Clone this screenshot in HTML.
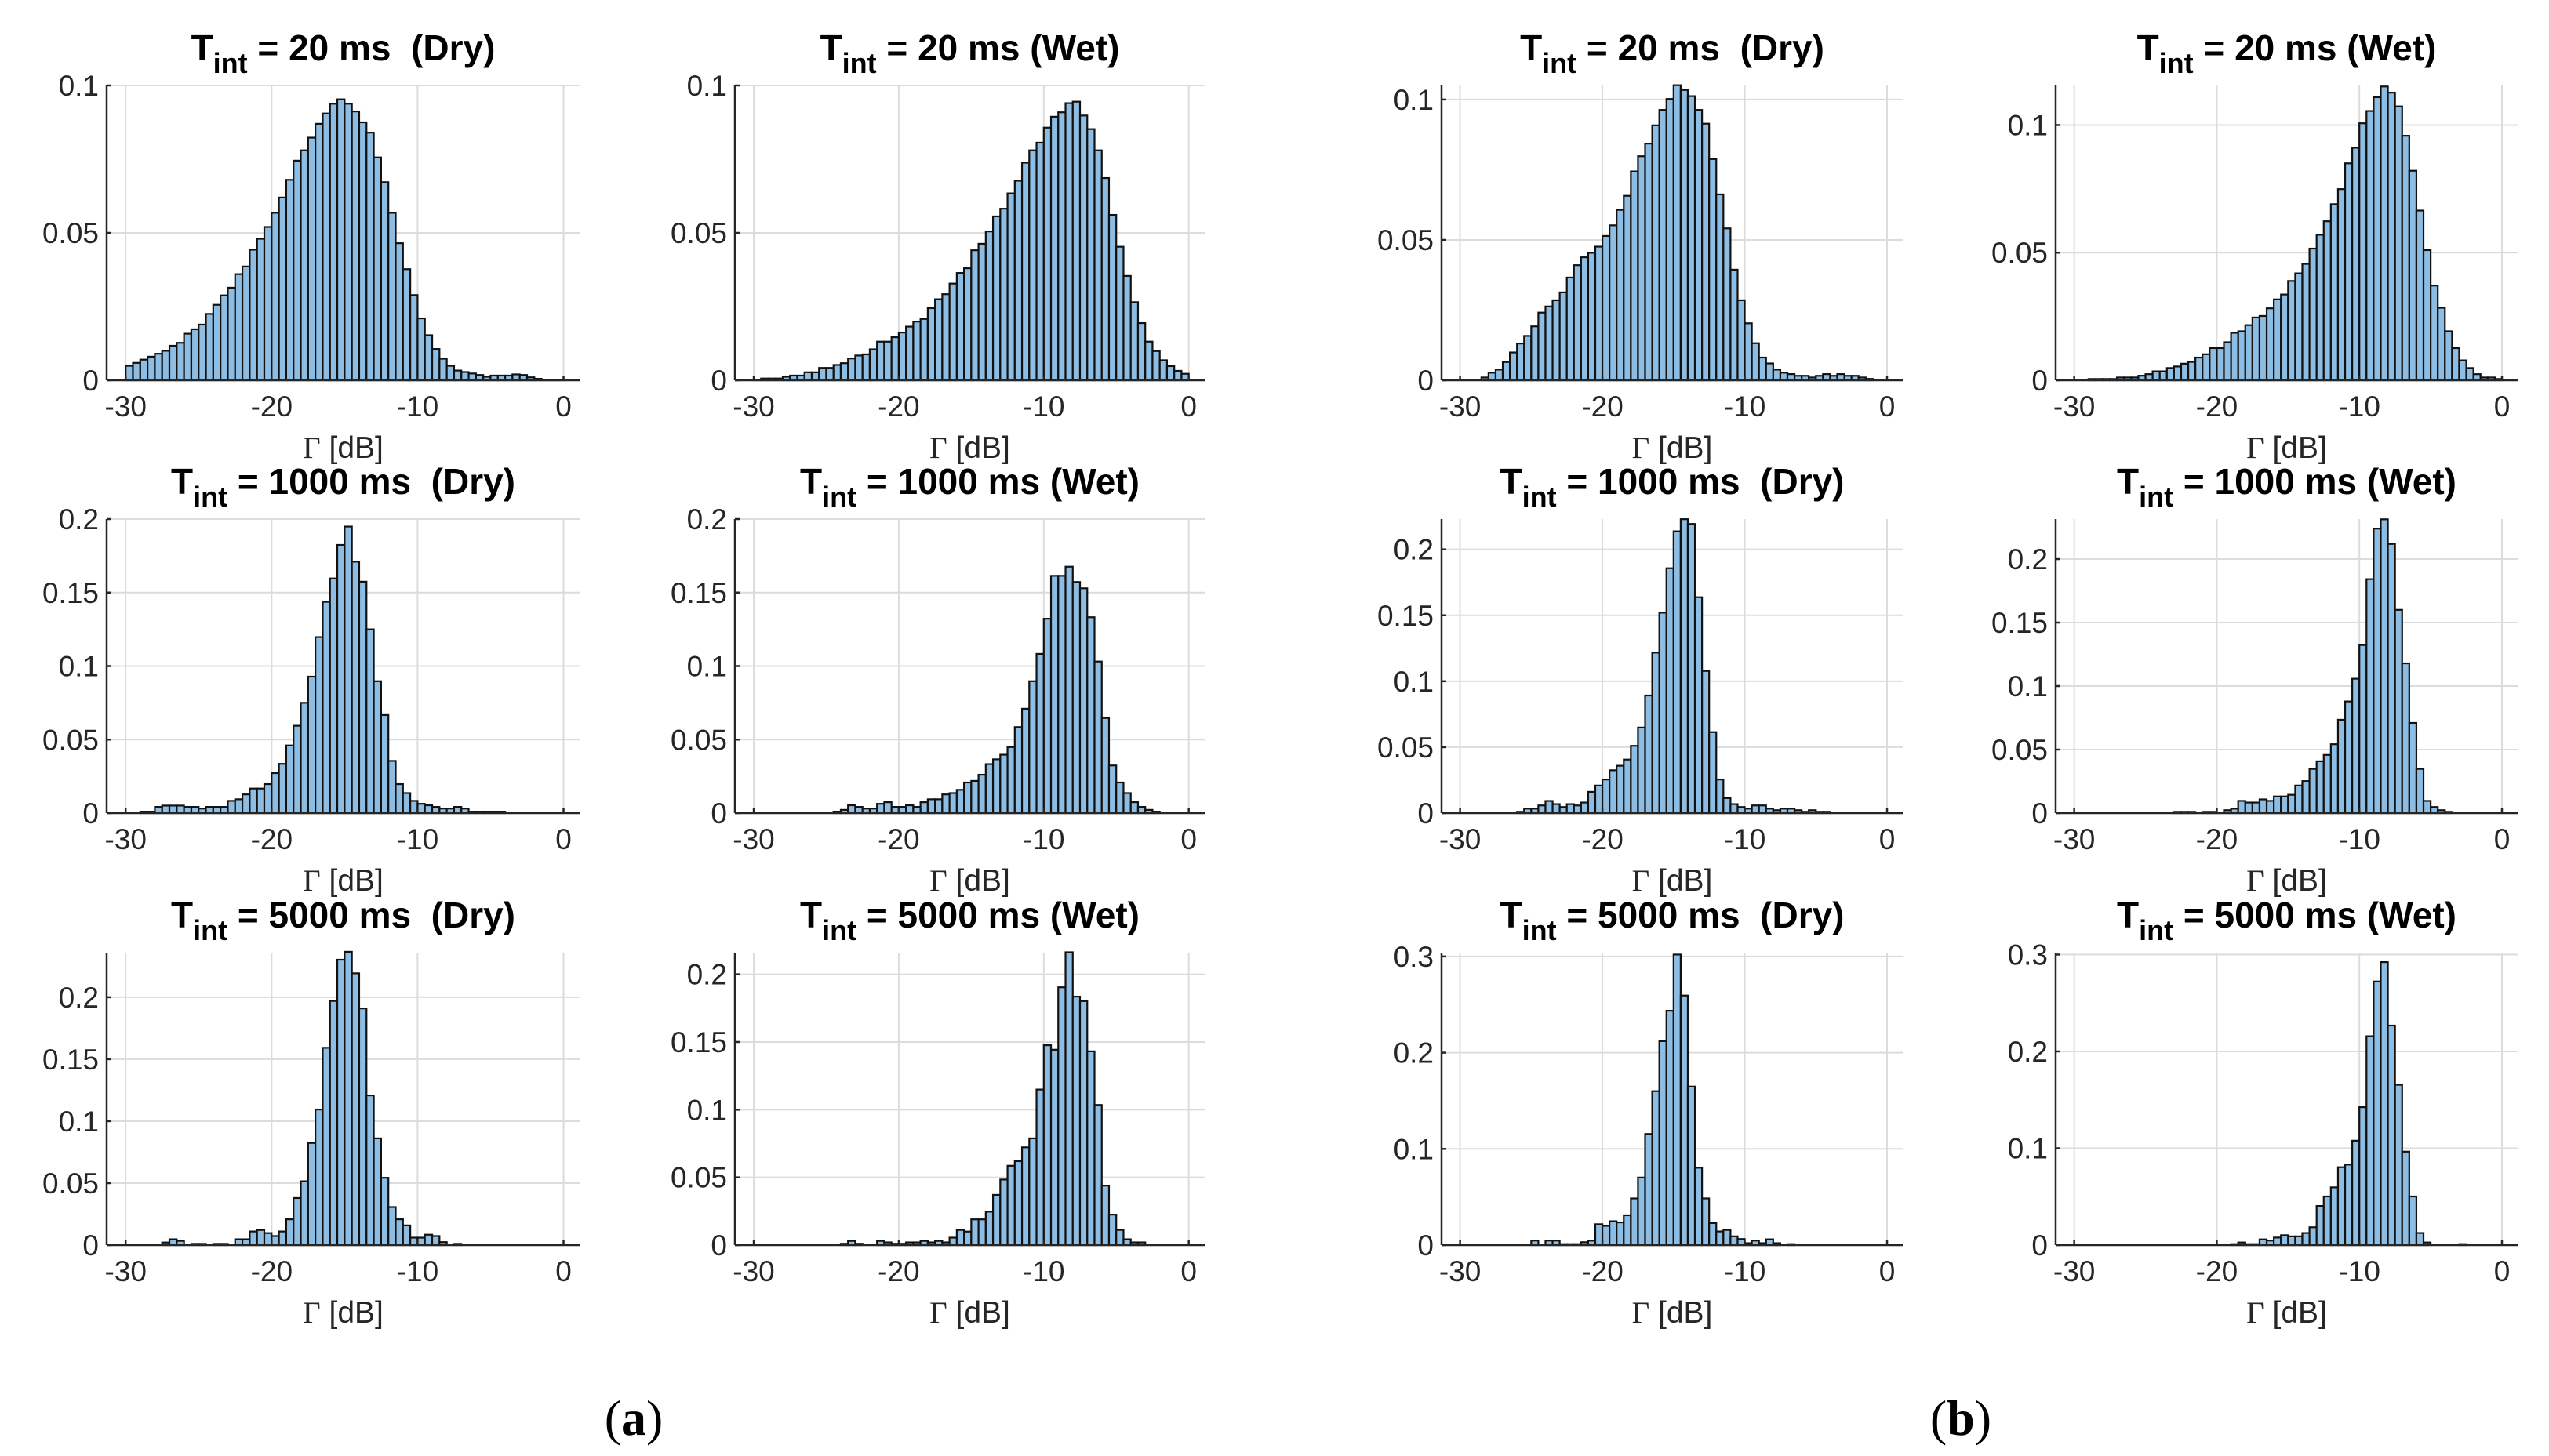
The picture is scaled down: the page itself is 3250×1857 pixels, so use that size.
<!DOCTYPE html>
<html><head><meta charset="utf-8"><title>Histograms</title>
<style>
html,body{margin:0;padding:0;background:#fff;}
svg{display:block;}
text{font-family:"Liberation Sans",sans-serif;}
</style></head>
<body>
<svg id="fig" xmlns="http://www.w3.org/2000/svg" width="3250" height="1857" viewBox="0 0 3250 1857">
<rect x="0" y="0" width="3250" height="1857" fill="#fff"/>
<text x="808" y="1830" text-anchor="middle" font-size="64" style="font-family:'Liberation Serif',serif">(<tspan font-weight="bold">a</tspan>)</text>
<text x="2500" y="1830" text-anchor="middle" font-size="64" style="font-family:'Liberation Serif',serif">(<tspan font-weight="bold">b</tspan>)</text>
</svg>
<script>
// categories: histogram bin left edges (dB), bin width 0.5
const binWidth = 0.5;
const binEdges = [];
for (let i = 0; i < 60; i++) binEdges.push(-30 + i * binWidth);
const xTicks = [-30, -20, -10, 0];
const xTickLabels = ['-30', '-20', '-10', '0'];

const aDry20 = [.0049,.0059,.007,.008,.009,.010,.0117,.0127,.0158,.0173,.0189,.0225,.0256,.0288,.0314,.036,.0386,.0443,.048,.052,.0568,.062,.068,.0745,.078,.0823,.087,.0905,.0938,.0953,.0938,.0912,.0875,.084,.0756,.0672,.0568,.0465,.0377,.0289,.021,.0153,.0106,.0073,.0049,.0033,.0028,.0023,.0018,.0012,.0016,.0016,.0016,.002,.0018,.001,.0005,.0002,.0002,.0002];
const aWet20 = [.0002,.0006,.0006,.0006,.0012,.0016,.0016,.0027,.0027,.0042,.0042,.0052,.0058,.0074,.0084,.0088,.0105,.0131,.0131,.0146,.0162,.0182,.0199,.0208,.0245,.0275,.0292,.0328,.0364,.038,.0441,.0463,.0505,.0556,.0582,.0634,.0677,.0738,.078,.0806,.0857,.0894,.0909,.094,.0945,.0898,.0852,.078,.0686,.0561,.0453,.0354,.0265,.0194,.0131,.0099,.0068,.0048,.0032,.0022];
const aDry1000 = [0,0,.001,.001,.0042,.0051,.0051,.0051,.0042,.0042,.0031,.0042,.0042,.0042,.0083,.0094,.0127,.0167,.0167,.0197,.0272,.0335,.046,.0594,.075,.0928,.1197,.1437,.1596,.1824,.1949,.171,.1574,.125,.0897,.0667,.0355,.0197,.0136,.0083,.0063,.0053,.0042,.0031,.0031,.0042,.0031,.001,.001,.001,.001,.001,0,0,0,0,0,0,0,0];
const aWet1000 = [0,0,0,0,0,0,0,0,0,0,0,.001,.0022,.0053,.0042,.0031,.0031,.0063,.0074,.0042,.0042,.0053,.0042,.0074,.0094,.0094,.0127,.0136,.0158,.0208,.0219,.0261,.0333,.0366,.0397,.0449,.0585,.071,.0897,.1083,.1322,.1614,.1614,.1676,.1572,.1529,.1332,.1031,.0647,.0324,.0208,.0136,.0074,.0042,.0022,.001,0,0,0,0];
const aDry5000 = [0,0,0,0,0,.0021,.0047,.0034,0,.001,.001,0,.001,.001,0,.0047,.0047,.011,.0122,.0097,.0073,.011,.0208,.038,.0515,.0824,.1094,.1592,.197,.2303,.2367,.2193,.191,.1208,.0861,.0543,.0307,.0208,.0159,.006,.006,.0084,.0073,.0024,0,.001,0,0,0,0,0,0,0,0,0,0,0,0,0,0];
const aWet5000 = [0,0,0,0,0,0,0,0,0,0,0,0,.001,.0031,.001,0,0,.0031,.002,.001,.001,.002,.002,.0031,.002,.0031,.002,.0055,.0112,.01,.019,.019,.0247,.0371,.0484,.0586,.062,.0722,.0788,.1149,.1476,.1443,.1904,.2163,.1835,.1802,.1431,.1035,.0439,.0225,.0112,.0043,.002,.002,0,0,0,0,0,0];
const bDry20 = [0,0,0,.001,.0027,.0038,.0065,.0099,.0131,.0158,.0192,.0241,.0263,.0285,.0313,.0366,.041,.0438,.0454,.0476,.0514,.0552,.0607,.0657,.0744,.0798,.0843,.0908,.0963,.1002,.1051,.1034,.1012,.0963,.0914,.0788,.0662,.0541,.0394,.0285,.0203,.0132,.0081,.006,.0038,.0027,.0022,.0016,.0016,.001,.0016,.0022,.0016,.0022,.0016,.0016,.001,.0005,0,0];
const bWet20 = [0,0,.0005,.0005,.0005,.0005,.0011,.0011,.0011,.0018,.0024,.0035,.0035,.0048,.0054,.0065,.0072,.0089,.0102,.0126,.0126,.0149,.0186,.0192,.0216,.0246,.0252,.0282,.0317,.0336,.0389,.0419,.0456,.0516,.057,.0623,.069,.0749,.085,.0911,.1007,.1055,.1109,.1151,.1127,.1073,.0958,.0821,.0665,.051,.0371,.0284,.0192,.0126,.0078,.0048,.0024,.0011,.0011,.0005];
const bDry1000 = [0,0,0,0,0,0,0,0,.001,.0034,.0034,.0058,.0092,.0068,.0046,.0068,.0058,.008,.0161,.0209,.0255,.0325,.0359,.0406,.051,.0649,.0892,.1217,.152,.1857,.2137,.2229,.2193,.1637,.1078,.0614,.0255,.0114,.0068,.0046,.0034,.0058,.0058,.0034,.0022,.0034,.0034,.0022,.001,.0022,.001,.001,0,0,0,0,0,0,0,0];
const bWet1000 = [0,0,0,0,0,0,0,0,0,0,0,0,0,0,.001,.001,.001,0,.001,.001,0,.0023,.0035,.0096,.0083,.0083,.0108,.0096,.0131,.0131,.0144,.0217,.0252,.0348,.0408,.0458,.0542,.0735,.0879,.1058,.1323,.1842,.224,.2313,.2119,.16,.1179,.071,.0348,.0096,.0048,.0023,.001,0,0,0,0,0,0,0];
const bDry5000 = [0,0,0,0,0,0,0,0,0,0,.0047,0,.0047,.0047,.001,.001,.001,.003,.0047,.0217,.02,.0248,.0236,.031,.0485,.0702,.1155,.16,.212,.2436,.302,.2594,.1648,.0804,.0485,.0229,.0142,.0158,.0091,.0063,.002,.0047,.002,.006,.002,0,.001,0,0,0,0,0,0,0,0,0,0,0,0,0];
const bWet5000 = [0,0,0,0,0,0,0,0,0,0,0,0,0,0,0,0,0,0,0,0,0,0,.001,.0027,.001,.001,.0059,.0047,.0078,.0102,.009,.009,.0125,.0184,.0404,.0502,.0596,.0804,.0831,.1078,.1424,.2157,.2722,.2922,.2267,.1655,.0965,.0502,.0125,.0027,0,0,0,0,.001,0,0,0,0,0];

const yMax = [0.1, 0.1, 0.105, 0.1155, 0.2, 0.2, 0.223, 0.2315, 0.236, 0.216, 0.304, 0.302];
const yTicks20a = [0, 0.05, 0.1];
const yTicks1000 = [0, 0.05, 0.1, 0.15, 0.2];
const yTicks5000b = [0, 0.1, 0.2, 0.3];
const durations = ['20', '20', '20', '20', '1000', '1000', '1000', '1000', '5000', '5000', '5000', '5000'];
const conditions = ['  (Dry)', ' (Wet)', '  (Dry)', ' (Wet)', '  (Dry)', ' (Wet)', '  (Dry)', ' (Wet)', '  (Dry)', ' (Wet)', '  (Dry)', ' (Wet)'];
const seriesList = [aDry20, aWet20, bDry20, bWet20, aDry1000, aWet1000, bDry1000, bWet1000, aDry5000, aWet5000, bDry5000, bWet5000];
const yTickSets = [yTicks20a, yTicks20a, yTicks20a, yTicks20a, yTicks1000, yTicks1000, yTicks1000, yTicks1000, yTicks1000, yTicks1000, yTicks5000b, yTicks5000b];
const panelNames = ['a-dry-20ms', 'a-wet-20ms', 'b-dry-20ms', 'b-wet-20ms', 'a-dry-1000ms', 'a-wet-1000ms', 'b-dry-1000ms', 'b-wet-1000ms', 'a-dry-5000ms', 'a-wet-5000ms', 'b-dry-5000ms', 'b-wet-5000ms'];

// layout (pixels)
const colBox = [[136, 739], [937, 1536], [1838, 2426], [2621, 3210]];
const rowBox = [[109, 485], [662, 1037], [1215, 1588]];
const xMin = -31.3, xMax = 1.1;

const NS = 'http://www.w3.org/2000/svg';
const svg = document.getElementById('fig');
function mk(tag, attrs, parent) {
  const e = document.createElementNS(NS, tag);
  for (const k in attrs) e.setAttribute(k, attrs[k]);
  parent.appendChild(e);
  return e;
}
function fmt(v) { return v === 0 ? '0' : String(v); }

for (let p = 0; p < 12; p++) {
  const col = p % 4, row = Math.floor(p / 4);
  const L = colBox[col][0], R = colBox[col][1];
  const T = rowBox[row][0], B = rowBox[row][1];
  const xs = v => L + (v - xMin) / (xMax - xMin) * (R - L);
  const ys = v => B - v / yMax[p] * (B - T);
  const g = mk('g', {}, svg);
  
  

  const grid = mk('g', {stroke: '#dcdcdc', 'stroke-width': 2}, g);
  
  
  xTicks.forEach(t => mk('line', {x1: xs(t), x2: xs(t), y1: T, y2: B}, grid));
  yTickSets[p].forEach(t => { if (t > 0) mk('line', {x1: L, x2: R, y1: ys(t), y2: ys(t)}, grid); });

  const bars = mk('g', {fill: '#8dbde3', stroke: '#111', 'stroke-width': 2.2}, g);
  
  
  const s = seriesList[p];
  for (let i = 0; i < binEdges.length; i++) {
    if (s[i] <= 0) continue;
    const x0 = xs(binEdges[i]), x1 = xs(binEdges[i] + binWidth);
    const r = mk('rect', {x: x0, y: ys(s[i]), width: x1 - x0, height: B - ys(s[i])}, bars);
    
    
  }

  const ax = mk('g', {stroke: '#262626', 'stroke-width': 2.5}, g);
  
  
  mk('line', {x1: L, x2: R, y1: B, y2: B}, ax);
  mk('line', {x1: L, x2: L, y1: T, y2: B}, ax);
  xTicks.forEach(t => mk('line', {x1: xs(t), x2: xs(t), y1: B, y2: B - 6}, ax));
  yTickSets[p].forEach(t => mk('line', {x1: L, x2: L + 6, y1: ys(t), y2: ys(t)}, ax));

  xTicks.forEach((t, i) => {
    const tx = mk('text', {x: xs(t), y: B + 46, 'text-anchor': 'middle', 'font-size': 37, fill: '#262626'}, g);
    tx.textContent = xTickLabels[i];
    
    
  });
  yTickSets[p].forEach(t => {
    const ty = mk('text', {x: L - 10, y: ys(t) + 13, 'text-anchor': 'end', 'font-size': 37, fill: '#262626'}, g);
    ty.textContent = fmt(t);
    
    
  });

  const xl = mk('text', {x: (L + R) / 2, y: B + 99, 'text-anchor': 'middle', 'font-size': 39, fill: '#262626'}, g);
  
  
  const gam = mk('tspan', {style: "font-family:'Liberation Serif',serif"}, xl);
  gam.textContent = 'Γ';
  const rest = mk('tspan', {}, xl);
  rest.textContent = ' [dB]';

  const tt = mk('text', {x: (L + R) / 2, y: T - 32, 'text-anchor': 'middle', 'font-size': 46, 'font-weight': 'bold', fill: '#000'}, g);
  
  
  tt.setAttribute('xml:space', 'preserve');
  tt.style.whiteSpace = 'pre';
  const t1 = mk('tspan', {}, tt); t1.textContent = 'T';
  const t2 = mk('tspan', {dy: 16, 'font-size': 36}, tt); t2.textContent = 'int';
  const t3 = mk('tspan', {dy: -16}, tt); t3.textContent = ' = ' + durations[p] + ' ms' + conditions[p];
}
</script>
</body></html>
